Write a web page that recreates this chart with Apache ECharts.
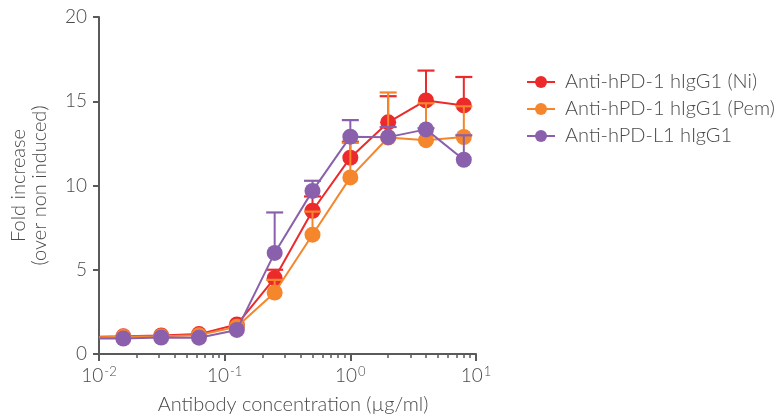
<!DOCTYPE html>
<html>
<head>
<meta charset="utf-8">
<script src="https://cdn.jsdelivr.net/npm/echarts@6/dist/echarts.min.js"></script>
<style>html,body{margin:0;padding:0;background:#fff}#c{width:782px;height:420px}</style>
</head>
<body>
<div id="c"></div>
<script>
// concentrations (µg/ml); first entry is the axis start where the curves begin
const conc = [0.01, 0.015625, 0.03125, 0.0625, 0.125, 0.25, 0.5, 1, 2, 4, 8];
const seriesNames = ['Anti-hPD-1 hIgG1 (Ni)', 'Anti-hPD-1 hIgG1 (Pem)', 'Anti-hPD-L1 hIgG1'];
const niValues  = [1.03, 1.05, 1.1, 1.18, 1.75, 4.5, 8.5, 11.65, 13.75, 15.05, 14.75];
const pemValues = [1.0, 1.02, 1.06, 1.12, 1.62, 3.65, 7.08, 10.48, 12.85, 12.69, 12.88];
const l1Values  = [0.92, 0.92, 0.98, 0.97, 1.43, 6.0, 9.68, 12.9, 12.87, 13.33, 11.53];
// upper error bar ends (null = no visible bar)
const niErrTop  = [null, null, null, null, null, 5.0, 9.35, 12.6, 15.3, 16.82, 16.44];
const pemErrTop = [null, null, null, null, null, 4.4, 8.45, 12.53, 15.52, 14.88, 14.7];
const l1ErrTop  = [null, null, null, null, null, 8.4, 10.28, 13.88, 13.47, 13.4, 12.98];
const yTicks = [0, 5, 10, 15, 20];
const xMajor = [0.01, 0.1, 1, 10];
const xMinor = [0.02,0.03,0.04,0.05,0.06,0.07,0.08,0.09,0.2,0.3,0.4,0.5,0.6,0.7,0.8,0.9,2,3,4,5,6,7,8,9];
const colors = ['#ec2a2c', '#f5862b', '#8a60ac'];

const FONT = 'Lato';
const TXT = '#4a4a4a';
const AX = '#5a5a5a';

function lineData(vals) {
  return conc.map((c, i) => i === 0 ? {value: [c, vals[i]], symbol: 'none'} : [c, vals[i]]);
}
function errData(vals, tops) {
  const out = [];
  conc.forEach((c, i) => { if (tops[i] != null) out.push([c, vals[i], tops[i]]); });
  return out;
}
function errSeries(name, vals, tops, color, z) {
  return {
    type: 'custom', name: name, z: z, xAxisIndex: 0, yAxisIndex: 0,
    data: errData(vals, tops),
    renderItem: function (params, api) {
      const p0 = api.coord([api.value(0), api.value(1)]);
      const p1 = api.coord([api.value(0), api.value(2)]);
      const hw = 8.5;
      return {
        type: 'group',
        children: [
          {type: 'line', shape: {x1: p0[0], y1: p0[1], x2: p1[0], y2: p1[1]}, style: {stroke: color, lineWidth: 2}},
          {type: 'line', shape: {x1: p1[0] - hw, y1: p1[1], x2: p1[0] + hw, y2: p1[1]}, style: {stroke: color, lineWidth: 2.2}}
        ]
      };
    },
    silent: true
  };
}
function lineSeries(name, vals, color, z) {
  return {
    type: 'line', name: name, z: z, xAxisIndex: 0, yAxisIndex: 0,
    data: lineData(vals),
    symbol: 'circle', symbolSize: 16, showAllSymbol: true,
    lineStyle: {color: color, width: 2},
    itemStyle: {color: color, borderWidth: 0},
    emphasis: {disabled: true},
    animation: false
  };
}

const chart = echarts.init(document.getElementById('c'), null, {renderer: 'canvas'});
chart.setOption({
  animation: false,
  backgroundColor: '#fff',
  textStyle: {fontFamily: FONT, fontWeight: 300, color: TXT},
  grid: {left: 99, right: 306, top: 17, bottom: 62, containLabel: false},
  legend: {
    data: seriesNames, orient: 'vertical', left: 521, top: 67,
    itemWidth: 28, itemHeight: 15, itemGap: 7,
    textStyle: {fontFamily: FONT, fontWeight: 300, fontSize: 20, color: TXT, padding: [0, 0, 0, 5]},
    selectedMode: false
  },
  xAxis: [{
    type: 'log', logBase: 10, min: 0.01, max: 10,
    name: 'Antibody concentration (µg/ml)', nameLocation: 'middle', nameGap: 41,
    nameTextStyle: {fontFamily: FONT, fontWeight: 300, fontSize: 20, color: TXT, padding: [0, 0, 0, 11]},
    axisLine: {show: true, lineStyle: {color: AX, width: 2}},
    axisTick: {show: true, length: 7, lineStyle: {color: AX, width: 2}, customValues: xMajor},
    axisLabel: {
      margin: 11, color: TXT, customValues: xMajor,
      formatter: function (v) { return '10{sup|' + Math.round(Math.log10(v)) + '}'; },
      fontFamily: FONT, fontWeight: 300, fontSize: 19,
      rich: {sup: {fontFamily: FONT, fontWeight: 300, fontSize: 13, color: TXT, verticalAlign: 'top', padding: [0, 0, 9, 1]}}
    },
    splitLine: {show: false}
  }, {
    type: 'log', logBase: 10, min: 0.01, max: 10, position: 'bottom',
    axisLine: {show: false},
    axisTick: {show: true, length: 4, lineStyle: {color: AX, width: 1.5}, customValues: xMinor},
    axisLabel: {show: false},
    splitLine: {show: false}
  }],
  yAxis: {
    type: 'value', min: 0, max: 20, interval: 5,
    name: 'Fold increase\n(over non induced)', nameLocation: 'middle', nameGap: 49, nameRotate: 90,
    nameTextStyle: {fontFamily: FONT, fontWeight: 300, fontSize: 20, color: TXT, lineHeight: 21, align: 'center'},
    axisLine: {show: true, lineStyle: {color: AX, width: 2}},
    axisTick: {show: true, length: 6, lineStyle: {color: AX, width: 2}, customValues: yTicks},
    axisLabel: {margin: 12, color: TXT, fontFamily: FONT, fontWeight: 300, fontSize: 19, customValues: yTicks},
    splitLine: {show: false}
  },
  series: [
    errSeries('e0', niValues, niErrTop, colors[0], 2),
    lineSeries(seriesNames[0], niValues, colors[0], 3),
    errSeries('e1', pemValues, pemErrTop, colors[1], 4),
    lineSeries(seriesNames[1], pemValues, colors[1], 5),
    errSeries('e2', l1Values, l1ErrTop, colors[2], 6),
    lineSeries(seriesNames[2], l1Values, colors[2], 7)
  ]
});
</script>
</body>
</html>
